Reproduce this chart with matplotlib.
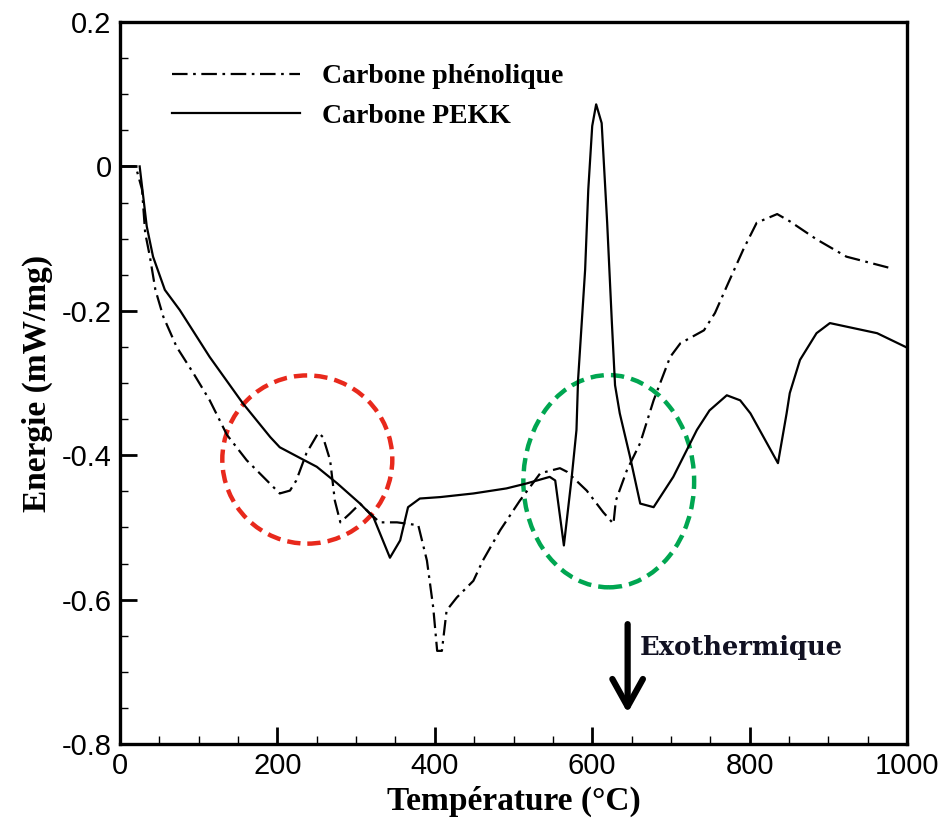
import numpy as np
import matplotlib
matplotlib.use("Agg")
import matplotlib.pyplot as plt
from matplotlib.patches import Ellipse

# Carbone phénolique (dash-dot)
t_phen = [0, 20, 28, 32, 38, 45, 55, 72, 93, 114, 136, 161, 182, 203, 216, 224, 237, 252,
          258, 267, 273, 280, 292, 305, 318, 330, 352, 379, 390, 398, 403, 409, 415, 428,
          449, 461, 483, 508, 534, 559, 568, 593, 614, 627, 630, 644, 661, 678, 699, 712,
          742, 756, 771, 792, 809, 835, 851, 885, 923, 983]
e_phen = [0, 0, -0.032, -0.092, -0.125, -0.171, -0.208, -0.250, -0.286, -0.324, -0.372,
          -0.407, -0.430, -0.453, -0.449, -0.435, -0.397, -0.369, -0.375, -0.407, -0.463,
          -0.493, -0.481, -0.467, -0.481, -0.493, -0.493, -0.497, -0.546, -0.611, -0.671,
          -0.671, -0.615, -0.597, -0.574, -0.546, -0.504, -0.463, -0.425, -0.418, -0.423,
          -0.449, -0.479, -0.495, -0.463, -0.421, -0.383, -0.324, -0.264, -0.245, -0.227,
          -0.203, -0.166, -0.115, -0.078, -0.066, -0.076, -0.101, -0.125, -0.142]

# Carbone PEKK (solid)
t_pekk = [25, 34, 42, 57, 76, 114, 156, 191, 203, 229, 250, 276, 305, 322, 343, 356, 366,
          381, 407, 449, 491, 517, 546, 553, 564, 574, 580, 582, 591, 595, 600, 605, 612,
          619, 625, 629, 635, 648, 661, 678, 703, 733, 749, 771, 788, 801, 836, 847, 851,
          864, 885, 902, 932, 962, 1000]
e_pekk = [0, -0.083, -0.125, -0.171, -0.199, -0.264, -0.328, -0.375, -0.389, -0.404,
          -0.416, -0.439, -0.467, -0.486, -0.542, -0.518, -0.472, -0.460, -0.458, -0.453,
          -0.446, -0.439, -0.430, -0.435, -0.525, -0.430, -0.365, -0.296, -0.143, -0.032,
          0.056, 0.086, 0.060, -0.078, -0.217, -0.303, -0.342, -0.402, -0.467, -0.472,
          -0.430, -0.365, -0.338, -0.317, -0.324, -0.342, -0.411, -0.342, -0.314, -0.268,
          -0.231, -0.217, -0.224, -0.231, -0.251]

labels = ["Carbone phénolique", "Carbone PEKK"]

serif = ['Liberation Serif', 'DejaVu Serif']
sans = ['Liberation Sans', 'DejaVu Sans']

fig = plt.figure(figsize=(9.47, 8.22), dpi=100)
ax = fig.add_axes([0.1267, 0.0949, 0.8311, 0.8783])

ax.plot(t_phen, e_phen, color='black', lw=1.6, linestyle=(0, (7, 2.5, 1.2, 2.5)), label=labels[0])
ax.plot(t_pekk, e_pekk, color='black', lw=1.6, label=labels[1])

# highlighted regions
ax.add_patch(Ellipse((238, -0.406), 216, 0.233, fill=False, edgecolor='#e8291c',
                     lw=3.2, linestyle=(0, (3, 1.6))))
ax.add_patch(Ellipse((621, -0.436), 217, 0.294, fill=False, edgecolor='#00a651',
                     lw=3.2, linestyle=(0, (3, 1.6))))

# exothermic arrow
ax.annotate('', xy=(645, -0.757), xytext=(645, -0.634),
            arrowprops=dict(arrowstyle='->,head_length=0.9,head_width=0.5', lw=4.5,
                            color='black', mutation_scale=22, shrinkA=0, shrinkB=0))
ax.text(661, -0.666, 'Exothermique', family=['DejaVu Serif'], fontweight='bold', fontsize=18.5,
        color='#111122', ha='left', va='center')

ax.set_xlim(0, 1000)
ax.set_ylim(-0.8, 0.2)
ax.set_xticks(np.arange(0, 1001, 200))
ax.set_yticks(np.arange(-0.8, 0.21, 0.2))
ax.set_xticks(np.arange(0, 1001, 50), minor=True)
ax.set_yticks(np.arange(-0.8, 0.21, 0.05), minor=True)
ax.set_xticklabels(['0', '200', '400', '600', '800', '1000'])
ax.set_yticklabels(['-0.8', '-0.6', '-0.4', '-0.2', '0', '0.2'])
ax.tick_params(which='major', direction='in', length=12, width=2, pad=6)
ax.tick_params(which='minor', direction='in', length=6, width=1)
for lab in ax.get_xticklabels() + ax.get_yticklabels():
    lab.set_family(sans)
    lab.set_fontsize(21)
for s in ax.spines.values():
    s.set_linewidth(2.4)

ax.set_xlabel('Température (°C)', family=serif, fontweight='bold', fontsize=24, labelpad=4)
ax.set_ylabel('Energie (mW/mg)', family=serif, fontweight='bold', fontsize=24, labelpad=6)

leg = ax.legend(loc='upper left', bbox_to_anchor=(0.066, 0.942), frameon=False,
                borderpad=0, borderaxespad=0,
                handlelength=4.6, handletextpad=0.8, labelspacing=0.5,
                prop={'family': serif, 'weight': 'bold', 'size': 20})

fig.savefig('out.png', dpi=100)
